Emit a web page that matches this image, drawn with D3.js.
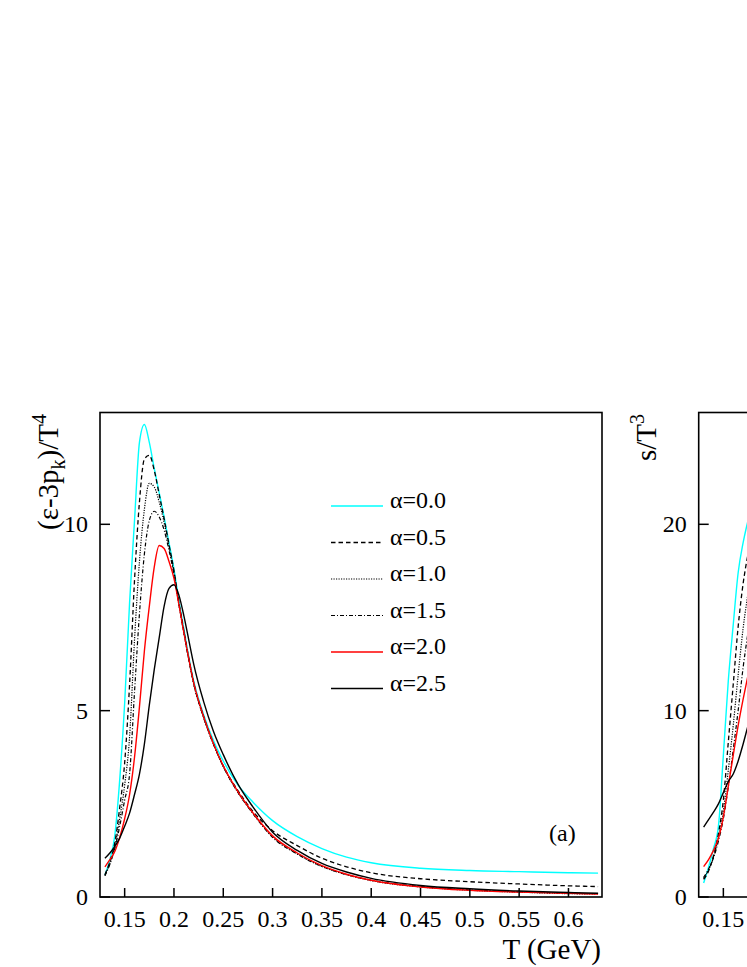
<!DOCTYPE html>
<html>
<head>
<meta charset="utf-8">
<script src="https://cdn.jsdelivr.net/npm/d3@7"></script>
<style>
  html, body { margin: 0; padding: 0; background: #fff; }
  svg { display: block; }
  text { font-family: "Liberation Serif", "Times New Roman", serif; fill: #000; }
</style>
</head>
<body>
<svg id="chart" width="747" height="967"></svg>
<script>
// ---------------- DATA ----------------
// Panel (a): (ε-3p_k)/T^4 vs T
const tempA = [0.130,0.135,0.140,0.145,0.150,0.155,0.160,0.165,0.170,0.175,0.180,0.185,0.190,0.195,0.200,0.205,0.210,0.215,0.220,0.230,0.240,0.250,0.265,0.280,0.300,0.325,0.350,0.375,0.400,0.450,0.500,0.550,0.600,0.630];
const a00 = [0.59,1.0,1.65,3.15,5.2,7.9,10.1,12.2,12.68,12.2,11.5,10.85,10.2,9.5,8.8,7.95,7.2,6.45,5.8,4.9,4.2,3.65,3.0,2.55,2.05,1.62,1.3,1.07,0.92,0.77,0.71,0.68,0.65,0.64];
const a05 = [0.6,0.95,1.45,2.4,3.6,5.7,8.5,10.6,11.75,11.85,11.45,10.8,10.15,9.45,8.75,7.9,7.15,6.4,5.75,4.85,4.12,3.52,2.85,2.3,1.78,1.38,1.04,0.81,0.65,0.49,0.41,0.35,0.3,0.28];
const a10 = [0.58,0.9,1.35,2.1,3.0,4.3,6.9,9.0,10.4,11.1,11.0,10.6,10.05,9.4,8.7,7.85,7.1,6.37,5.72,4.82,4.1,3.5,2.8,2.25,1.62,1.16,0.82,0.6,0.44,0.27,0.18,0.13,0.09,0.08];
const a15 = [0.57,0.88,1.3,1.9,2.6,3.3,5.5,7.6,9.2,10.1,10.35,10.2,9.85,9.3,8.65,7.85,7.1,6.37,5.72,4.82,4.1,3.5,2.8,2.24,1.6,1.15,0.82,0.6,0.45,0.28,0.19,0.14,0.1,0.09];
const a20 = [0.81,1.0,1.22,1.6,2.1,2.75,3.75,5.1,6.6,7.8,8.85,9.43,9.35,9.0,8.55,7.85,7.1,6.4,5.75,4.85,4.12,3.52,2.82,2.26,1.64,1.18,0.84,0.61,0.45,0.27,0.18,0.13,0.1,0.08];
const a25 = [1.04,1.18,1.36,1.58,1.9,2.25,2.75,3.3,4.1,5.15,6.1,6.95,7.8,8.28,8.38,8.1,7.55,6.9,6.25,5.25,4.45,3.82,3.02,2.42,1.74,1.25,0.9,0.67,0.5,0.31,0.22,0.16,0.12,0.1];

// Panel (b): s/T^3 vs T (only the left edge is inside the picture)
const tempB = [0.130,0.135,0.140,0.145,0.150,0.155,0.160,0.165,0.170,0.175,0.180];
const b00 = [0.75,1.6,2.6,3.8,7.6,11.6,14.6,17.4,19.0,20.2,21.2];
const b05 = [0.95,1.4,2.2,3.4,5.2,8.3,11.4,14.5,16.8,18.4,19.7];
const b10 = [1.0,1.45,2.15,3.2,4.6,6.8,9.2,11.9,14.4,16.3,18.0];
const b15 = [1.05,1.5,2.1,3.0,4.2,5.9,7.9,10.0,12.3,14.2,16.0];
const b20 = [1.63,2.0,2.5,3.15,4.3,5.95,7.6,9.2,10.6,11.9,13.1];
const b25 = [3.75,4.15,4.55,5.0,5.6,6.2,6.6,7.3,8.2,9.2,10.2];

const seriesLabels = ["α=0.0","α=0.5","α=1.0","α=1.5","α=2.0","α=2.5"];
const xTicks = [0.15,0.2,0.25,0.3,0.35,0.4,0.45,0.5,0.55,0.6];
const xTickLabels = ["0.15","0.2","0.25","0.3","0.35","0.4","0.45","0.5","0.55","0.6"];
const yTicksA = [0,5,10];
const yTicksB = [0,10,20];

// ---------------- STYLE / LAYOUT ----------------
const W = 747, H = 967;
const styles = [
  {color:"#00ffff", dash:null,        width:1.4},
  {color:"#000",    dash:"4.5,3",     width:1.3},
  {color:"#000",    dash:"1.2,1.3",   width:1.2},
  {color:"#000",    dash:"4,2,1,2",   width:1.2},
  {color:"#ff0000", dash:null,        width:1.4},
  {color:"#000",    dash:null,        width:1.4}
];
const plotTop = 412.5, plotBottom = 897;
const panelW = 502;
const leftA = 100, leftB = 698.7;
const xDomain = [0.125, 0.634];

const svg = d3.select("#chart").attr("width", W).attr("height", H);

function drawPanel(left, yMax, yTicks, temps, seriesArr) {
  const x = d3.scaleLinear().domain(xDomain).range([left, left + panelW]);
  const y = d3.scaleLinear().domain([0, yMax]).range([plotBottom, plotTop]);
  const g = svg.append("g");

  const line = d3.line().curve(d3.curveMonotoneX)
    .x((d, i) => x(temps[i])).y(d => y(d));

  seriesArr.forEach((vals, i) => {
    const st = styles[i];
    g.append("path").datum(vals)
      .attr("d", line)
      .attr("fill", "none")
      .attr("stroke", st.color)
      .attr("stroke-width", st.width)
      .attr("stroke-dasharray", st.dash);
  });

  g.append("rect")
    .attr("x", x.range()[0]).attr("y", plotTop)
    .attr("width", panelW).attr("height", plotBottom - plotTop)
    .attr("fill", "none").attr("stroke", "#000").attr("stroke-width", 1.6);

  xTicks.forEach((t, i) => {
    if (x(t) > W - 20) return;   // outside the picture
    g.append("line")
      .attr("x1", x(t)).attr("x2", x(t))
      .attr("y1", plotBottom).attr("y2", plotBottom - 9)
      .attr("stroke", "#000").attr("stroke-width", 1.5);
    g.append("text")
      .attr("x", x(t)).attr("y", 927)
      .attr("text-anchor", "middle")
      .attr("font-size", 24)
      .text(xTickLabels[i]);
  });

  yTicks.forEach(v => {
    g.append("line")
      .attr("x1", left).attr("x2", left + 10)
      .attr("y1", y(v)).attr("y2", y(v))
      .attr("stroke", "#000").attr("stroke-width", 1.5);
    g.append("text")
      .attr("x", left - 12).attr("y", y(v) + 8)
      .attr("text-anchor", "end")
      .attr("font-size", 24)
      .text(v);
  });
  return {x, y};
}

drawPanel(leftA, 13, yTicksA, tempA, [a00,a05,a10,a15,a20,a25]);
drawPanel(leftB, 26, yTicksB, tempB, [b00,b05,b10,b15,b20,b25]);

// ---------------- LABELS ----------------
const yl = svg.append("text")
  .attr("transform", "translate(58,414) rotate(-90)")
  .attr("text-anchor", "end")
  .attr("font-size", 29);
yl.append("tspan").text("(ε-3p");
yl.append("tspan").attr("dy", 7).attr("font-size", 20).text("k");
yl.append("tspan").attr("dy", -7).text(")/T");
yl.append("tspan").attr("dy", -12).attr("font-size", 20).text("4");

const yl2 = svg.append("text")
  .attr("transform", "translate(656,414) rotate(-90)")
  .attr("text-anchor", "end")
  .attr("font-size", 29);
yl2.append("tspan").text("s/T");
yl2.append("tspan").attr("dy", -12).attr("font-size", 20).text("3");

svg.append("text")
  .attr("x", 601).attr("y", 959)
  .attr("text-anchor", "end")
  .attr("font-size", 29)
  .text("T (GeV)");

svg.append("text")
  .attr("x", 549).attr("y", 841)
  .attr("font-size", 24)
  .text("(a)");

// ---------------- LEGEND ----------------
const legY0 = 506, legDy = 36.5;
seriesLabels.forEach((lab, i) => {
  const st = styles[i];
  const yy = legY0 + i * legDy;
  svg.append("line")
    .attr("x1", 331).attr("x2", 383)
    .attr("y1", yy).attr("y2", yy)
    .attr("stroke", st.color)
    .attr("stroke-width", st.width)
    .attr("stroke-dasharray", st.dash);
  svg.append("text")
    .attr("x", 390).attr("y", yy + 2)
    .attr("font-size", 24)
    .text(lab);
});
</script>
</body>
</html>
